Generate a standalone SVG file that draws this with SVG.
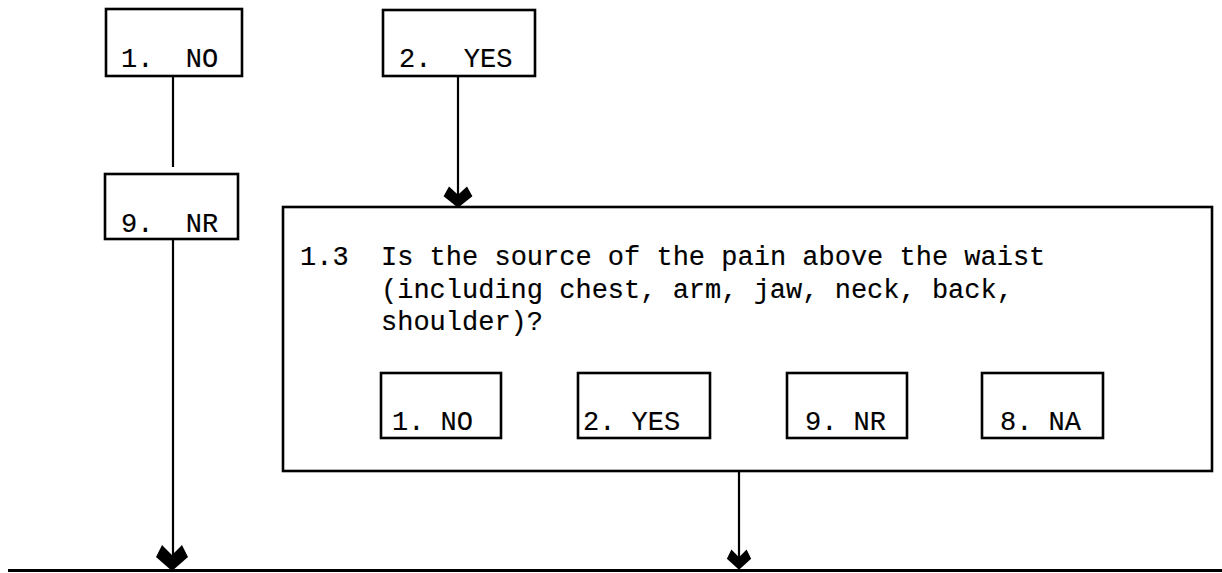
<svg xmlns="http://www.w3.org/2000/svg" width="1222" height="573" viewBox="0 0 1222 573">
<style>
.box{fill:none;stroke:#000;stroke-width:2.6}
.ln{fill:none;stroke:#000;stroke-width:2.2}
.t{font-family:"Liberation Mono","Courier New",monospace;font-size:27px;fill:#000;stroke:#000;stroke-width:0.15}
</style>
<defs>
<path id="ah" d="M0,1 L-16,-13 L-10,-25 L0,-15 L10,-25 L16,-13 Z" fill="#000"/>
</defs>
<rect width="1222" height="573" fill="#fff"/>
<g id="connectors">
<line class="ln" x1="173" y1="76" x2="173" y2="167"/>
<line class="ln" x1="458" y1="76" x2="458" y2="200"/>
<use href="#ah" transform="translate(458,207) scale(0.9,0.82)"/>
<line class="ln" x1="173" y1="239" x2="173" y2="560"/>
<use href="#ah" transform="translate(172,570)"/>
<line class="ln" x1="739" y1="472" x2="739" y2="560"/>
<use href="#ah" transform="translate(739,569) scale(0.76,0.78)"/>
<line x1="8" y1="570.5" x2="1222" y2="570.5" stroke="#000" stroke-width="3"/>
</g>
<g id="n1">
<rect class="box" x="106" y="9" width="136" height="67"/>
<text class="t" x="121" y="67" xml:space="preserve">1.  NO</text>
</g>
<g id="n2">
<rect class="box" x="383" y="10" width="152" height="66"/>
<text class="t" x="399" y="67" xml:space="preserve">2.  YES</text>
</g>
<g id="n3">
<rect class="box" x="105" y="174" width="133" height="65"/>
<text class="t" x="121" y="232" xml:space="preserve">9.  NR</text>
</g>
<g id="q13">
<rect class="box" x="283" y="207" width="929" height="264"/>
<text class="t" x="300" y="265" xml:space="preserve">1.3  Is the source of the pain above the waist</text>
<text class="t" x="381" y="298" xml:space="preserve">(including chest, arm, jaw, neck, back,</text>
<text class="t" x="381" y="330" xml:space="preserve">shoulder)?</text>
</g>
<g id="a1">
<rect class="box" x="381" y="373" width="120" height="65"/>
<text class="t" x="392" y="430" xml:space="preserve">1. NO</text>
</g>
<g id="a2">
<rect class="box" x="578" y="373" width="132" height="65"/>
<text class="t" x="583" y="430" xml:space="preserve">2. YES</text>
</g>
<g id="a9">
<rect class="box" x="787" y="373" width="120" height="65"/>
<text class="t" x="805" y="430" xml:space="preserve">9. NR</text>
</g>
<g id="a8">
<rect class="box" x="982" y="373" width="121" height="65"/>
<text class="t" x="1000" y="430" xml:space="preserve">8. NA</text>
</g>
</svg>
